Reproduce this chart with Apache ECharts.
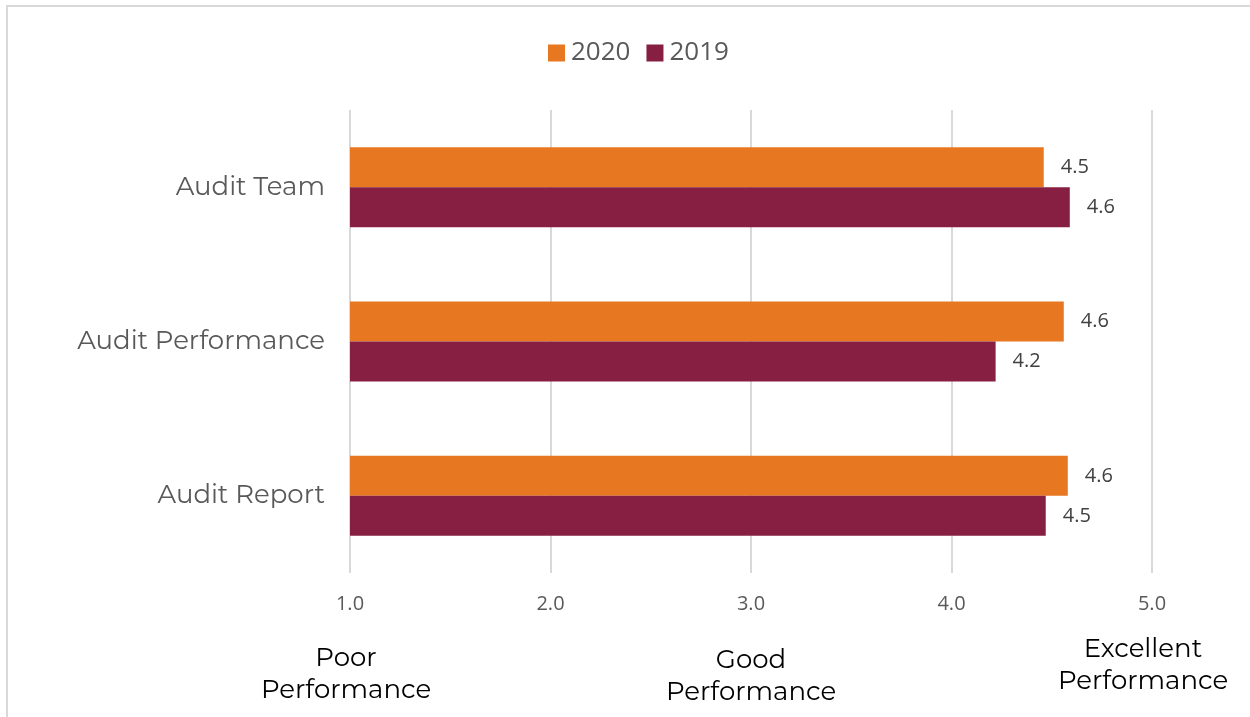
<!DOCTYPE html>
<html>
<head>
<meta charset="utf-8">
<script src="https://cdn.jsdelivr.net/npm/echarts@6/dist/echarts.min.js"></script>
<style>
  html, body { margin: 0; padding: 0; background: #ffffff; }
  #chart { width: 1250px; height: 717px; }
</style>
</head>
<body>
<div id="chart"></div>
<script>
// Survey scores by area, rated on a 1–5 scale
const categories = ['Audit Team', 'Audit Performance', 'Audit Report'];
const scores2020 = [4.46, 4.56, 4.58];
const scores2019 = [4.59, 4.22, 4.47];
const tickValues = [1, 2, 3, 4, 5];
// Descriptive anchors shown beneath the scale
const scaleAnchors = [
  { value: 1, text: 'Poor\nPerformance', dx: -4, dy: 0 },
  { value: 3, text: 'Good\nPerformance', dx: 0, dy: 2 },
  { value: 5, text: 'Excellent\nPerformance', dx: -9, dy: -9 }
];

const ORANGE = '#E87722';
const MAROON = '#861F41';
const GRID = { left: 350, right: 98, top: 110, bottom: 144 };

const chart = echarts.init(document.getElementById('chart'));

const valueLabel = {
  show: true,
  position: 'right',
  distance: 17,
  fontFamily: 'Open Sans, Noto Sans, sans-serif',
  fontSize: 20,
  color: '#404040',
  formatter: p => p.value.toFixed(1)
};

chart.setOption({
  animation: false,
  backgroundColor: '#ffffff',
  legend: {
    top: 35,
    left: 543,
    itemWidth: 17,
    itemHeight: 17,
    itemGap: 16,
    icon: 'rect',
    textStyle: { fontFamily: 'Open Sans, Noto Sans, sans-serif', fontSize: 26, color: '#595959', padding: [0, 0, 0, 1] },
    data: ['2020', '2019']
  },
  grid: GRID,
  xAxis: {
    type: 'value',
    min: tickValues[0],
    max: tickValues[tickValues.length - 1],
    interval: 1,
    axisLine: { show: false },
    axisTick: { show: false },
    splitLine: { lineStyle: { color: '#d9d9d9', width: 2 } },
    axisLabel: {
      margin: 21,
      fontFamily: 'Open Sans, Noto Sans, sans-serif',
      fontSize: 20,
      color: '#595959',
      formatter: v => v.toFixed(1)
    }
  },
  yAxis: {
    type: 'category',
    inverse: true,
    data: categories,
    axisLine: { show: false },
    axisTick: { show: false },
    axisLabel: {
      margin: 25,
      fontFamily: 'Montserrat, Lato, Noto Sans, sans-serif',
      fontSize: 26,
      color: '#595959'
    }
  },
  series: [
    {
      name: '2020',
      type: 'bar',
      data: scores2020,
      barWidth: 40,
      barGap: '0%',
      itemStyle: { color: ORANGE },
      label: valueLabel
    },
    {
      name: '2019',
      type: 'bar',
      data: scores2019,
      barWidth: 40,
      barGap: '0%',
      itemStyle: { color: MAROON },
      label: valueLabel
    }
  ]
});

// Frame lines and the scale anchor captions
function drawExtras() {
  const elements = [
    {
      type: 'polyline',
      shape: { points: [[7, 717], [7, 6], [1250, 6]] },
      style: { stroke: '#d9d9d9', lineWidth: 2, fill: null },
      silent: true
    }
  ];
  const axisBottom = 717 - GRID.bottom;
  scaleAnchors.forEach(a => {
    const x = chart.convertToPixel({ xAxisIndex: 0 }, a.value);
    elements.push({
      type: 'text',
      x: x + a.dx,
      y: axisBottom + 69 + a.dy,
      style: {
        text: a.text,
        fontFamily: 'Montserrat, Lato, Noto Sans, sans-serif',
        fontSize: 26,
        lineHeight: 32,
        fill: '#000000',
        align: 'center',
        verticalAlign: 'top'
      },
      silent: true
    });
  });
  chart.setOption({ graphic: elements });
}
drawExtras();
</script>
</body>
</html>
